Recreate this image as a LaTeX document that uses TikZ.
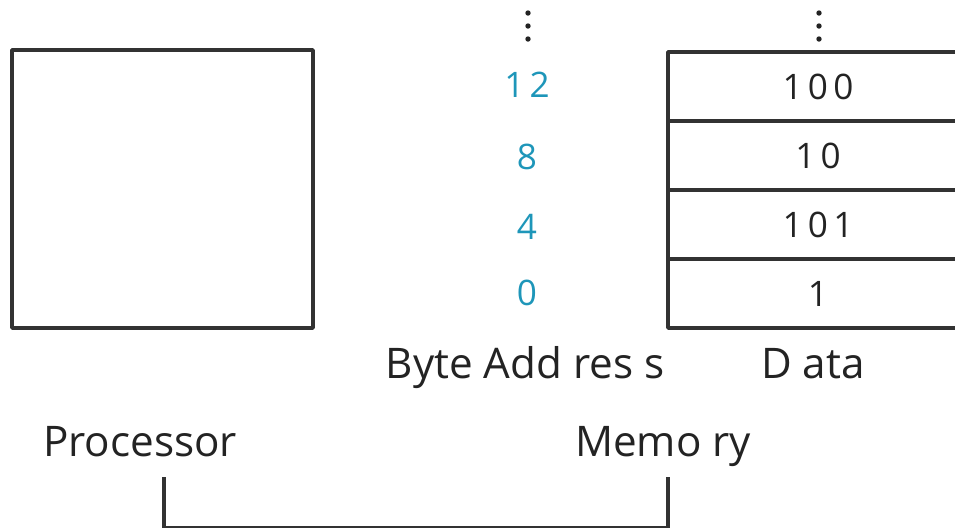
\documentclass[tikz,border=0pt]{standalone}
\usepackage{fontspec}
\setmainfont{Open Sans}
\newfontfamily\numfont[LetterSpace=15]{Open Sans}
\definecolor{addrblue}{RGB}{30,150,185}
\definecolor{linegray}{RGB}{50,50,50}
\definecolor{textgray}{RGB}{35,35,35}

\begin{document}
\begin{tikzpicture}[join=round]
    \tikzstyle{procbox} = [draw=linegray,line width=1pt,inner sep=0pt,
                           minimum width=3.01cm,minimum height=2.78cm]
    \tikzstyle{cell} = [draw=linegray,line width=1pt,inner sep=0pt,
                        minimum width=3cm,minimum height=.69cm,
                        text=textgray,font=\numfont\fontsize{10}{12}\selectfont]
    \tikzstyle{addr} = [text=addrblue,inner sep=0pt,
                        font=\numfont\fontsize{10}{12}\selectfont]
    \tikzstyle{lbl} = [text=textgray,anchor=base,inner sep=0pt,
                       font=\fontsize{12}{14}\selectfont]
    \tikzstyle{bus} = [draw=linegray,line width=1.1pt]
    \useasboundingbox (0,0) rectangle (9.55,-5.27);
    % processor
    \node[procbox] (proc) at (1.625,-1.89) {};
    % memory cells and their byte addresses
    \node[cell] (d100) at (8.18,-.865) {100};
    \node[cell] (d10)  at (8.18,-1.555) {10};
    \node[cell] (d101) at (8.18,-2.245) {101};
    \node[cell] (d1)   at (8.18,-2.935) {1};
    \node[addr] (a12) at (5.27,-.85) {12};
    \node[addr] (a8)  at (5.27,-1.57) {8};
    \node[addr] (a4)  at (5.27,-2.27) {4};
    \node[addr] (a0)  at (5.27,-2.93) {0};
    % dots above the columns
    \fill[textgray] (5.28,-.13) circle (.027);
    \fill[textgray] (5.28,-.26) circle (.027);
    \fill[textgray] (5.28,-.39) circle (.027);
    \fill[textgray] (8.19,-.13) circle (.027);
    \fill[textgray] (8.19,-.26) circle (.027);
    \fill[textgray] (8.19,-.39) circle (.027);
    % labels
    \node[lbl] (addrlbl) at (5.25,-3.78) {Byte Add res s};
    \node[lbl] (datalbl) at (8.13,-3.78) {D ata};
    \node[lbl] (proclbl) at (1.40,-4.56) {Processor};
    \node[lbl] (memlbl)  at (6.63,-4.56) {Memo ry};
    % bus between processor and memory
    \coordinate (pport) at (1.64,-4.77);
    \coordinate (mport) at (6.68,-4.77);
    \coordinate (pbus) at (1.64,-5.28);
    \coordinate (mbus) at (6.68,-5.28);
    \draw[bus] (pport) -- (pbus) -- (mbus) -- (mport);
\end{tikzpicture}
\end{document}
